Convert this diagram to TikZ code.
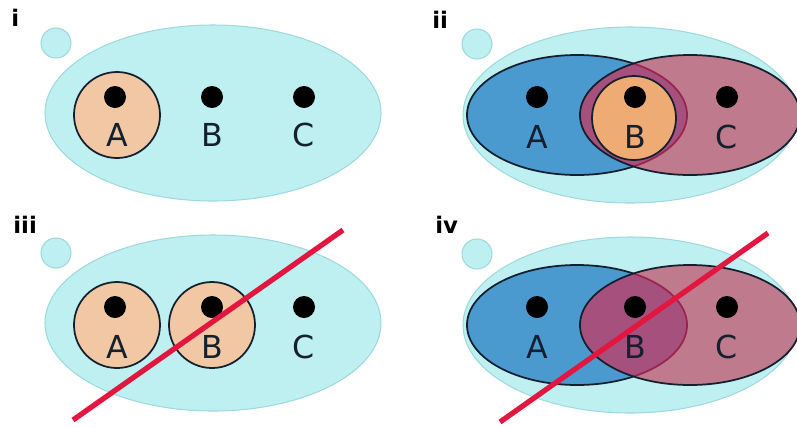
\documentclass[tikz,border=0pt]{standalone}
\usepackage{fontspec}
\setmainfont{DejaVu Sans}
\usetikzlibrary{positioning}
\definecolor{Sky}{HTML}{BFF0F1}
\definecolor{SkyLine}{HTML}{9ED9DD}
\definecolor{Ink}{HTML}{15202E}
\definecolor{Peach}{HTML}{F2C8A4}
\definecolor{Apricot}{HTML}{EFAB74}
\definecolor{Ocean}{HTML}{4A9AD0}
\definecolor{Rose}{HTML}{C07A8E}
\definecolor{Plum}{HTML}{A6507E}
\definecolor{Wine}{HTML}{9A2450}
\definecolor{Strike}{HTML}{E2163E}
\tikzset{world/.style={fill=Sky,draw=SkyLine,line width=.6pt},
  seed/.style={circle,fill=Sky,draw=SkyLine,line width=.6pt,minimum size=30*.02cm,inner sep=0pt},
  atom/.style={circle,fill=black,minimum size=22*.02cm,inner sep=0pt},
  letter/.style={font=\fontsize{18}{20}\selectfont,text=Ink,inner sep=0pt},
  paneltag/.style={font=\fontsize{13}{15}\selectfont\bfseries,anchor=west,inner sep=0pt},
  ring/.style={circle,draw=Ink,line width=1pt,minimum size=86*.02cm,inner sep=0pt},
  edge/.style={draw=Ink,line width=1pt},
  cross/.style={draw=Strike,line width=3pt}}

\begin{document}
\begin{tikzpicture}[x=.02cm,y=-.02cm]
\useasboundingbox (0,0) rectangle (797,427);
% i : one world, A alone
\begin{scope}
\node[paneltag] (t1) at (11,18) {i};
\fill[world] (213,113) ellipse (168 and 88);
\node[seed] (s1) at (56,43) {};
\node[ring,fill=Peach] (r1) at (117,115) {};
\node[atom] (a1) at (115,97) {};
\node[atom] (b1) at (212,97) {};
\node[atom] (c1) at (304,97) {};
\node[letter] (la1) at (117,135) {A};
\node[letter] (lb1) at (212,135) {B};
\node[letter] (lc1) at (304,135) {C};
\end{scope}
% ii : two groups sharing B
\begin{scope}[shift={(417,0)}]
\node[paneltag] (t2) at (15,20) {ii};
\fill[world] (213,115) ellipse (167 and 88);
\node[seed] (s2) at (60,44) {};
\draw[edge,fill=Ocean] (160,115) ellipse (110 and 60);
\fill[Rose] (273,115) ellipse (110 and 60);
\begin{scope}
\clip (273,115) ellipse (110 and 60);
\fill[Plum] (160,115) ellipse (110 and 60);
\draw[Wine,line width=1pt] (160,115) ellipse (110 and 60);
\end{scope}
\draw[edge] (273,115) ellipse (110 and 60);
\node[ring,fill=Apricot,minimum size=84*.02cm] (r2) at (217,118) {};
\node[atom] (a2) at (120,97) {};
\node[atom] (b2) at (218,97) {};
\node[atom] (c2) at (310,97) {};
\node[letter] (la2) at (120,137) {A};
\node[letter] (lb2) at (218,137) {B};
\node[letter] (lc2) at (310,137) {C};
\end{scope}
% iii : A and B apart, crossed out
\begin{scope}[shift={(0,210)}]
\node[paneltag] (t3) at (13,15) {iii};
\fill[world] (213,113) ellipse (168 and 88);
\node[seed] (s3) at (56,43) {};
\node[ring,fill=Peach] (r3a) at (117,115) {};
\node[ring,fill=Peach] (r3b) at (212,115) {};
\node[atom] (a3) at (115,97) {};
\node[atom] (b3) at (212,97) {};
\node[atom] (c3) at (304,97) {};
\node[letter] (la3) at (117,137) {A};
\node[letter] (lb3) at (212,137) {B};
\node[letter] (lc3) at (304,137) {C};
\draw[cross] (73,210) -- (343,20);
\end{scope}
% iv : overlap without B, crossed out
\begin{scope}[shift={(417,210)}]
\node[paneltag] (t4) at (18,15) {iv};
\fill[world] (213,115) ellipse (167 and 88);
\node[seed] (s4) at (60,44) {};
\draw[edge,fill=Ocean] (160,115) ellipse (110 and 60);
\fill[Rose] (273,115) ellipse (110 and 60);
\begin{scope}
\clip (273,115) ellipse (110 and 60);
\fill[Plum] (160,115) ellipse (110 and 60);
\draw[Wine,line width=1pt] (160,115) ellipse (110 and 60);
\end{scope}
\draw[edge] (273,115) ellipse (110 and 60);
\node[atom] (a4) at (120,97) {};
\node[atom] (b4) at (218,97) {};
\node[atom] (c4) at (310,97) {};
\node[letter] (la4) at (120,137) {A};
\node[letter] (lb4) at (218,137) {B};
\node[letter] (lc4) at (310,137) {C};
\draw[cross] (83,212) -- (351,23);
\end{scope}
\end{tikzpicture}
\end{document}
